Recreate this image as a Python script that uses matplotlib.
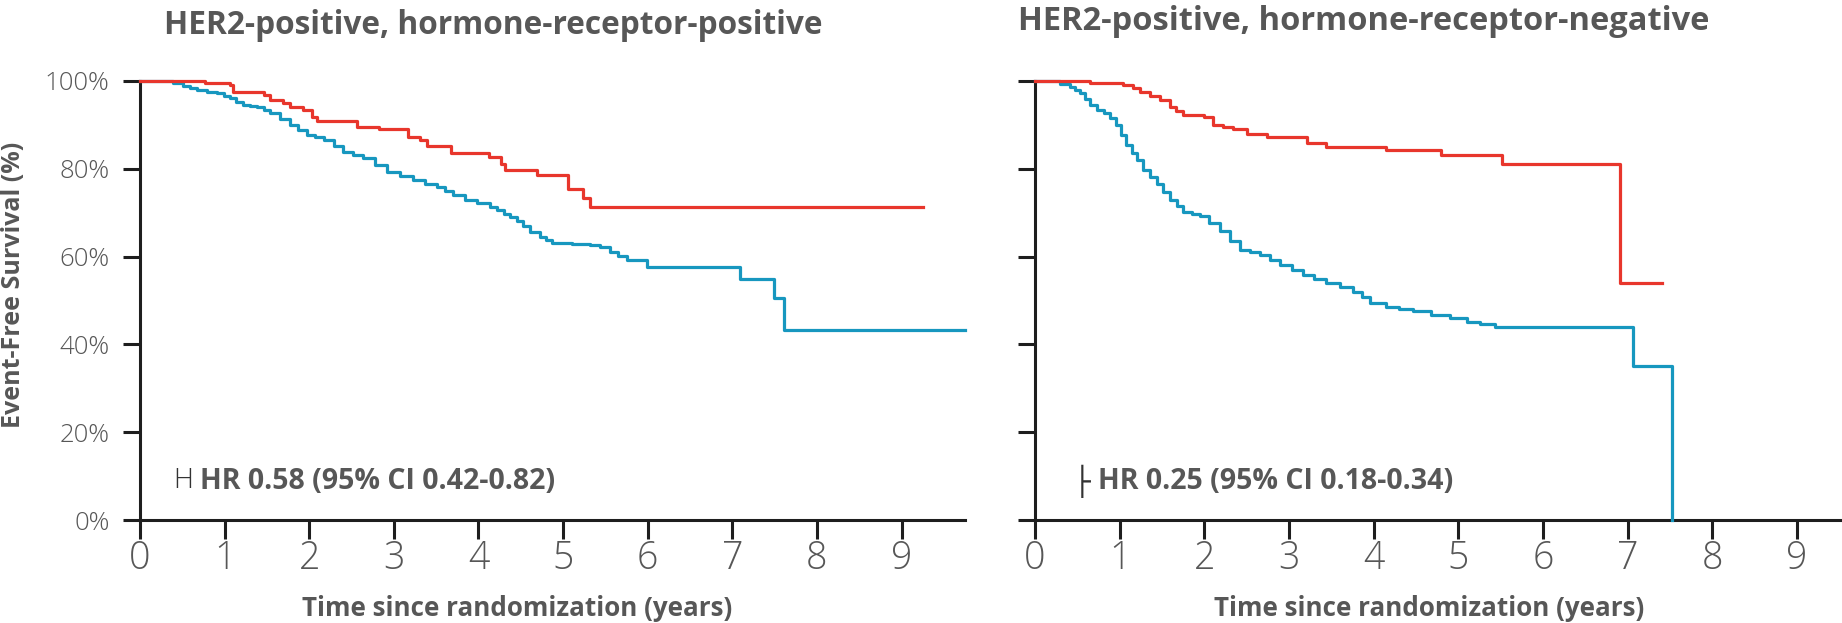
import matplotlib
matplotlib.use("Agg")
import matplotlib.pyplot as plt

# ---- data (years, event-free survival %) ----
hrpos_red_t = [0, 0.77, 1.06, 1.10, 1.46, 1.54, 1.69, 1.77, 1.93, 2.03, 2.09, 2.56, 2.82,
               3.17, 3.31, 3.39, 3.68, 4.12, 4.27, 4.31, 4.69, 5.06, 5.24, 5.32, 9.25]
hrpos_red_s = [100, 99.6, 99.1, 97.6, 96.8, 95.7, 94.9, 94.1, 93.5, 91.9, 91.0, 89.6, 89.0,
               87.3, 86.6, 85.2, 83.5, 82.8, 81.2, 79.8, 78.5, 75.3, 73.3, 71.4, 71.4]

hrpos_blue_t = [0, 0.39, 0.51, 0.59, 0.67, 0.79, 0.91, 0.99, 1.06, 1.14, 1.22, 1.30, 1.38,
                1.46, 1.54, 1.66, 1.77, 1.87, 1.97, 2.07, 2.17, 2.29, 2.40, 2.52, 2.64,
                2.78, 2.92, 3.07, 3.23, 3.37, 3.51, 3.60, 3.70, 3.84, 3.98, 4.14, 4.22,
                4.30, 4.37, 4.45, 4.53, 4.61, 4.73, 4.80, 4.87, 5.10, 5.32, 5.44, 5.56,
                5.65, 5.75, 5.99, 7.09, 7.49, 7.61, 9.75]
hrpos_blue_s = [100, 99.5, 98.8, 98.3, 97.9, 97.5, 97.2, 96.6, 96.1, 95.3, 94.5, 94.3, 94.1,
                93.3, 92.6, 91.3, 90.0, 88.8, 87.7, 87.2, 86.6, 85.2, 83.9, 83.2, 82.4,
                80.8, 79.3, 78.3, 77.4, 76.6, 75.9, 75.0, 74.0, 73.0, 72.1, 71.4, 70.6,
                69.8, 69.0, 68.2, 67.0, 65.7, 64.4, 63.7, 63.0, 62.8, 62.6, 62.1, 61.1,
                60.1, 59.2, 57.7, 55.0, 50.5, 43.3, 43.3]

hrneg_red_t = [0, 0.65, 0.92, 1.04, 1.16, 1.24, 1.36, 1.48, 1.59, 1.67, 1.75, 1.99, 2.10,
               2.22, 2.34, 2.50, 2.74, 3.05, 3.21, 3.44, 4.15, 4.80, 5.51, 6.91, 7.40]
hrneg_red_s = [100, 99.6, 99.5, 99.1, 98.3, 97.6, 96.6, 95.7, 94.1, 93.2, 92.3, 91.9, 90.0,
               89.5, 89.0, 87.9, 87.3, 87.2, 85.8, 85.0, 84.3, 83.1, 81.2, 53.9, 53.9]

hrneg_blue_t = [0, 0.30, 0.41, 0.47, 0.53, 0.59, 0.65, 0.73, 0.81, 0.88, 0.96, 1.02, 1.08,
                1.14, 1.20, 1.28, 1.36, 1.44, 1.51, 1.60, 1.68, 1.75, 1.85, 1.95, 2.06,
                2.18, 2.30, 2.42, 2.54, 2.66, 2.78, 2.89, 3.03, 3.17, 3.30, 3.44, 3.60,
                3.76, 3.86, 3.96, 4.15, 4.30, 4.46, 4.68, 4.90, 5.10, 5.25, 5.43, 7.06, 7.52]
hrneg_blue_s = [100, 99.4, 98.7, 98.0, 97.2, 96.0, 94.5, 93.5, 92.6, 91.5, 90.0, 87.8, 85.5,
                83.6, 82.0, 79.8, 78.2, 76.6, 74.8, 73.0, 71.5, 70.2, 69.7, 69.3, 67.6,
                65.8, 63.5, 61.5, 61.0, 60.4, 59.2, 58.1, 57.0, 55.8, 54.8, 53.9, 53.0,
                52.0, 50.8, 49.4, 48.6, 48.1, 47.7, 46.7, 45.9, 45.2, 44.6, 43.9, 35.1, 0]

titles = ["HER2-positive, hormone-receptor-positive", "HER2-positive, hormone-receptor-negative"]
hr_text = ["HR 0.58 (95% CI 0.42-0.82)", "HR 0.25 (95% CI 0.18-0.34)"]
hr_mark = ["H", "\u251c"]
xticks = list(range(10))
yticks = [0, 20, 40, 60, 80, 100]
ytick_labels = ["0%", "20%", "40%", "60%", "80%", "100%"]
xlabel = "Time since randomization (years)"
ylabel = "Event-Free Survival (%)"

RED = "#e8362c"
BLUE = "#1797bf"
GREY = "#575757"

plt.rcParams["font.family"] = ["Open Sans", "DejaVu Sans"]

fig = plt.figure(figsize=(18.42, 6.23), dpi=100)
ax1 = fig.add_axes([140 / 1842, 1 - 520 / 623, 825 / 1842, 439 / 623])
ax2 = fig.add_axes([1035 / 1842, 1 - 520 / 623, 807 / 1842, 439 / 623])

curves = [(hrpos_red_t, hrpos_red_s, hrpos_blue_t, hrpos_blue_s),
          (hrneg_red_t, hrneg_red_s, hrneg_blue_t, hrneg_blue_s)]
xmax = [9.75, 9.53]
mark_x = [0.040, 0.048]
mark_family = ["Open Sans", "DejaVu Sans"]
mark_weight = ["light", "normal"]
text_x = [0.073, 0.078]

for i, ax in enumerate([ax1, ax2]):
    rt, rs, bt, bs = curves[i]
    ax.plot(bt, bs, drawstyle="steps-post", color=BLUE, lw=2.3, clip_on=False, zorder=3)
    ax.plot(rt, rs, drawstyle="steps-post", color=RED, lw=2.3, clip_on=False, zorder=4)
    ax.set_xlim(0, xmax[i])
    ax.set_ylim(0, 100)
    for s in ["top", "right"]:
        ax.spines[s].set_visible(False)
    for s in ["left", "bottom"]:
        ax.spines[s].set_linewidth(2.2)
        ax.spines[s].set_color("#1e1e1e")
    ax.set_xticks(xticks)
    ax.set_xticklabels([str(x) for x in xticks], fontsize=27, color=GREY, fontweight="light")
    ax.set_yticks(yticks)
    if i == 0:
        ax.set_yticklabels(ytick_labels, fontsize=18.5, color=GREY, fontweight="light")
    else:
        ax.set_yticklabels([])
    ax.tick_params(axis="x", length=14, width=2.2, pad=0, color="#1e1e1e")
    ax.tick_params(axis="y", length=12, width=2.2, pad=10, color="#1e1e1e")
    ax.set_xlabel(xlabel, fontsize=18.7, fontweight="bold", color=GREY)
    ax.text(mark_x[i], 0.088, hr_mark[i], transform=ax.transAxes,
            fontsize=20, color="#333333", fontweight=mark_weight[i], va="center", ha="left",
            family=mark_family[i])
    ax.text(text_x[i], 0.088, hr_text[i], transform=ax.transAxes,
            fontsize=20.5, color=GREY, fontweight="bold", va="center", ha="left")

ax1.xaxis.set_label_coords(0.457, -0.17)
ax2.xaxis.set_label_coords(0.489, -0.17)
ax1.set_ylabel(ylabel, fontsize=18, fontweight="bold", color=GREY)
ax1.yaxis.set_label_coords(-0.138, 0.535)

fig.text(493 / 1842, 1 - 26 / 623, titles[0], fontsize=22.8, fontweight="bold",
         color=GREY, ha="center", va="center")
fig.text(1364 / 1842, 1 - 22 / 623, titles[1], fontsize=23.5, fontweight="bold",
         color=GREY, ha="center", va="center")

fig.savefig("out.png", dpi=100, facecolor="white")
